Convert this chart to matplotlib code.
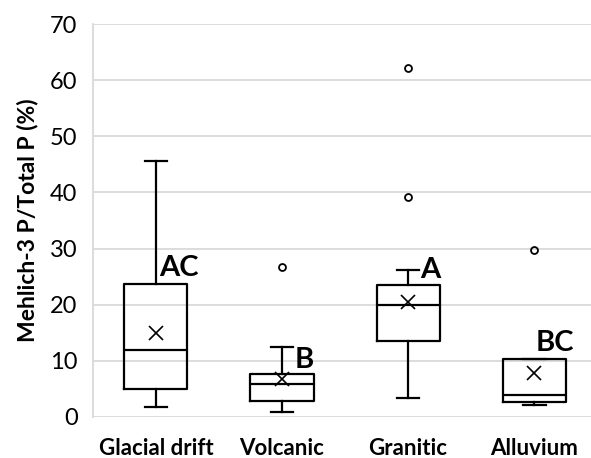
import matplotlib
matplotlib.use("Agg")
import matplotlib.pyplot as plt

plt.rcParams['font.family'] = ['Lato', 'DejaVu Sans']

categories = ['Glacial drift', 'Volcanic', 'Granitic', 'Alluvium']
whislo = [1.7, 0.9, 3.3, 2.1]
q1 = [4.9, 2.9, 13.6, 2.6]
med = [11.9, 5.8, 20.0, 3.8]
q3 = [23.6, 7.7, 23.5, 10.3]
whishi = [45.6, 12.5, 26.1, 10.3]
means = [14.9, 6.7, 20.5, 7.8]
outliers = [[], [26.7], [62.2, 39.2], [29.8]]
letters = ['AC', 'B', 'A', 'BC']
letter_x = [0.03, 1.10, 2.095, 3.01]
letter_y = [26.5, 10.1, 26.1, 13.1]

stats = []
for i in range(len(categories)):
    stats.append({'whislo': whislo[i], 'q1': q1[i], 'med': med[i], 'q3': q3[i],
                  'whishi': whishi[i], 'mean': means[i], 'fliers': outliers[i]})

fig = plt.figure(figsize=(5.91, 4.58), dpi=100)
ax = fig.add_axes([0.157, 0.09, 0.843, 0.857])

lw = 1.6
ax.bxp(stats, positions=range(len(categories)), widths=0.5, showmeans=True,
       capwidths=0.18,
       boxprops=dict(color='black', linewidth=lw),
       medianprops=dict(color='black', linewidth=lw),
       whiskerprops=dict(color='black', linewidth=lw),
       capprops=dict(color='black', linewidth=lw),
       meanprops=dict(marker='x', markeredgecolor='black', markersize=10, markeredgewidth=1.2),
       flierprops=dict(marker='o', markerfacecolor='none', markeredgecolor='black',
                       markersize=5, markeredgewidth=1.3))

for i, t in enumerate(letters):
    ax.text(letter_x[i], letter_y[i], t, ha='left', va='center',
            fontsize=21, fontweight='bold')

ax.set_xlim(-0.5, 3.45)
ax.set_ylim(0, 70)
ax.set_yticks(range(0, 71, 10))
ax.yaxis.grid(True, color='#d9d9d9', linewidth=1.3)
ax.set_axisbelow(True)
for s in ['top', 'right', 'bottom']:
    ax.spines[s].set_visible(False)
ax.spines['left'].set_color('#d9d9d9')
ax.spines['left'].set_linewidth(1.3)
ax.tick_params(axis='both', length=0)
ax.tick_params(axis='y', labelsize=17, pad=11)
ax.tick_params(axis='x', labelsize=16, pad=15)
ax.set_xticks(range(len(categories)))
ax.set_xticklabels(categories, fontweight='bold')
ax.set_ylabel('Mehlich-3 P/Total P (%)', fontsize=16.5, fontweight='bold', labelpad=8)

fig.savefig('out.png', dpi=100)
